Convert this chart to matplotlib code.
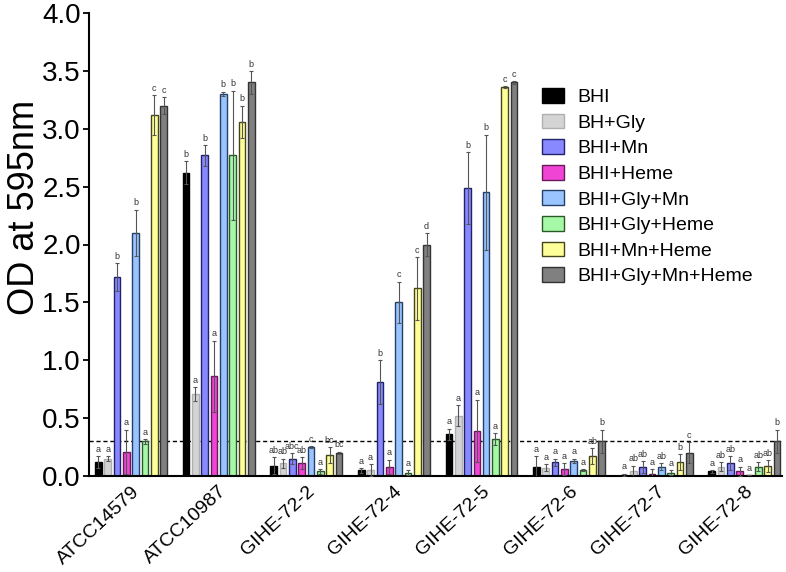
import numpy as np
import matplotlib
matplotlib.use("Agg")
import matplotlib.pyplot as plt
from matplotlib.transforms import ScaledTranslation

plt.rcParams['font.family'] = ['Liberation Sans', 'DejaVu Sans']

# =============================================================================
#  Data
# =============================================================================
strains = ["ATCC14579", "ATCC10987", "GIHE-72-2", "GIHE-72-4",
           "GIHE-72-5", "GIHE-72-6", "GIHE-72-7", "GIHE-72-8"]
media = ["BHI", "BH+Gly", "BHI+Mn", "BHI+Heme", "BHI+Gly+Mn",
         "BHI+Gly+Heme", "BHI+Mn+Heme", "BHI+Gly+Mn+Heme"]

# one row per medium, one column per strain
od = np.array([
    [0.12, 2.62, 0.09, 0.05, 0.36, 0.08, 0.01, 0.04],   # BHI
    [0.15, 0.71, 0.11, 0.05, 0.52, 0.07, 0.04, 0.08],   # BH+Gly
    [1.72, 2.77, 0.15, 0.81, 2.49, 0.12, 0.08, 0.11],   # BHI+Mn
    [0.21, 0.86, 0.11, 0.08, 0.39, 0.06, 0.02, 0.04],   # BHI+Heme
    [2.10, 3.30, 0.25, 1.50, 2.45, 0.13, 0.08, 0.005],  # BHI+Gly+Mn
    [0.30, 2.77, 0.04, 0.03, 0.32, 0.05, 0.03, 0.08],   # BHI+Gly+Heme
    [3.12, 3.06, 0.18, 1.62, 3.36, 0.17, 0.12, 0.085],  # BHI+Mn+Heme
    [3.20, 3.40, 0.20, 2.00, 3.40, 0.30, 0.20, 0.30],   # BHI+Gly+Mn+Heme
])
sd = np.array([
    [0.05, 0.10, 0.07, 0.02, 0.05, 0.09, 0.01, 0.01],
    [0.02, 0.06, 0.04, 0.05, 0.09, 0.03, 0.05, 0.04],
    [0.12, 0.09, 0.05, 0.19, 0.31, 0.03, 0.05, 0.06],
    [0.19, 0.31, 0.05, 0.06, 0.27, 0.05, 0.04, 0.04],
    [0.20, 0.02, 0.01, 0.18, 0.50, 0.02, 0.03, 0.0],
    [0.02, 0.56, 0.02, 0.02, 0.05, 0.01, 0.02, 0.04],
    [0.17, 0.14, 0.07, 0.27, 0.01, 0.07, 0.07, 0.05],
    [0.07, 0.10, 0.01, 0.10, 0.01, 0.10, 0.09, 0.10],
])
letters = [
    ["a", "b", "ab", "a", "a", "a", "a", "a"],
    ["a", "a", "ab", "a", "a", "a", "ab", "ab"],
    ["b", "b", "abc", "b", "b", "a", "ab", "ab"],
    ["a", "a", "ab", "a", "a", "a", "a", "a"],
    ["b", "b", "c", "c", "b", "a", "ab", "a"],
    ["a", "b", "a", "a", "a", "a", "a", "ab"],
    ["c", "b", "bc", "c", "c", "ab", "b", "ab"],
    ["c", "b", "bc", "d", "c", "b", "c", "b"],
]
threshold = 0.3

colors = ["#000000", "#d4d4d4", "#8888ff", "#f044d4",
          "#99c4ff", "#a6f8a6", "#ffff99", "#808080"]
edges = ["#000000", "#b0b0b0", "#22226a", "#6a1a5a",
         "#24406a", "#2a5a2a", "#44441a", "#333333"]

# =============================================================================
#  Plot
# =============================================================================
fig = plt.figure(figsize=(7.86, 5.72), dpi=100)
ax = fig.add_axes([89/786, 1 - 476/572, 693/786, 463/572])

x = np.arange(len(strains))
step = 0.1064
width = 0.076
for i, (m, c, e) in enumerate(zip(media, colors, edges)):
    pos = x + (i - 3.5) * step
    ax.bar(pos, od[i], width=width, color=c, edgecolor=e, linewidth=1,
           label=m, zorder=2)
    ax.errorbar(pos, od[i], yerr=sd[i], fmt="none", ecolor="#555555",
                elinewidth=0.8, capsize=1.2, capthick=0.8, zorder=3)
    for p, v, s, t in zip(pos, od[i], sd[i], letters[i]):
        ax.text(p, v + s + 0.02, t, ha="center", va="bottom",
                fontsize=6.5, color="#333333", zorder=4)

ax.axhline(threshold, color="black", lw=1, ls=(0, (3, 2)), zorder=1)

ax.set_xlim(-0.48, 7.43)
ax.set_ylim(0, 4.0)
ax.set_yticks(np.arange(0, 4.01, 0.5))
ax.set_yticklabels([f"{v:.1f}" for v in np.arange(0, 4.01, 0.5)], fontsize=20)
ax.set_xticks(x)
ax.set_xticklabels(strains, rotation=43, ha="right", rotation_mode="anchor",
                   fontsize=14)
shift = ScaledTranslation(19/100, 0, fig.dpi_scale_trans)
for lab in ax.get_xticklabels():
    lab.set_transform(lab.get_transform() + shift)
ax.tick_params(axis="x", length=0, pad=5)
ax.tick_params(axis="y", length=4, width=1.3, direction="out", pad=2)
ax.set_ylabel("OD at 595nm", fontsize=26)
ax.yaxis.set_label_coords(-0.068, 0.579)

for side in ["top", "right"]:
    ax.spines[side].set_visible(False)
for side in ["left", "bottom"]:
    ax.spines[side].set_linewidth(1.5)

ax.legend(loc="upper left", bbox_to_anchor=(542/786, 1 - 88/572),
          bbox_transform=fig.transFigure, frameon=False, fontsize=14,
          handlelength=1.15, handleheight=0.8, handletextpad=0.65,
          labelspacing=0.38, borderaxespad=0, borderpad=0)

fig.savefig("out.png", dpi=100)
